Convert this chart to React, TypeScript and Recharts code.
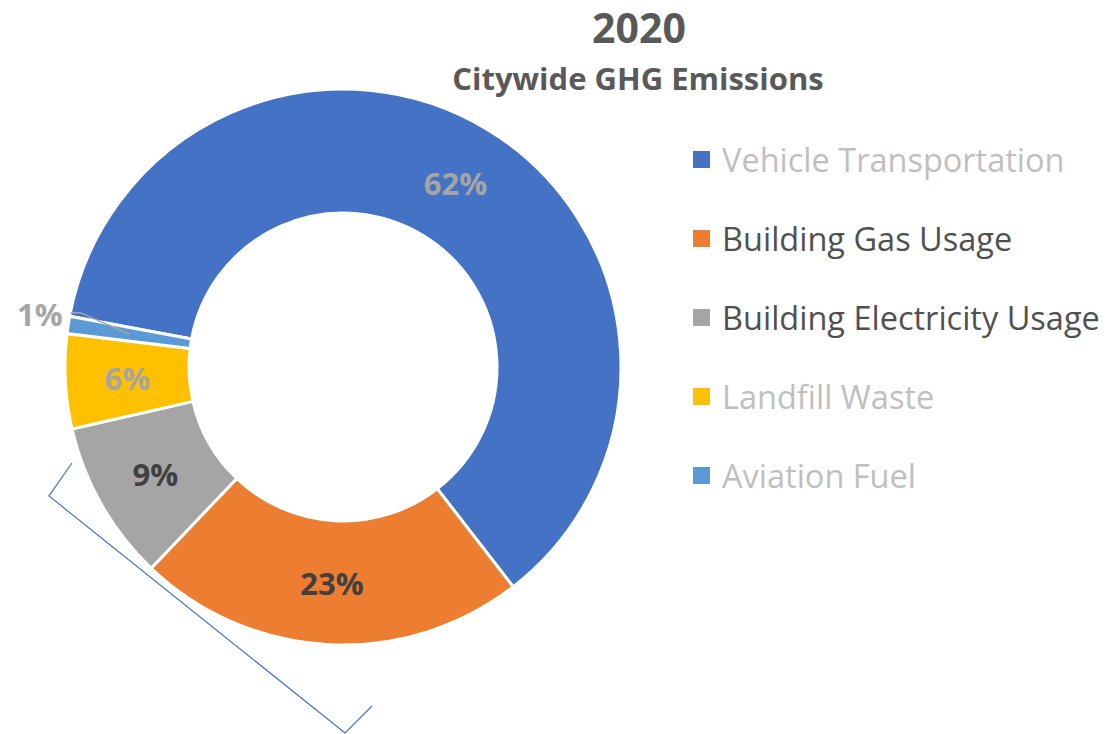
import React from 'react';
import { PieChart, Pie, Cell, Legend, Customized } from 'recharts';

const categories = [
  'Vehicle Transportation',
  'Building Gas Usage',
  'Building Electricity Usage',
  'Landfill Waste',
  'Aviation Fuel',
];
const shares = [61.6, 22.6, 9.3, 5.5, 1.0];
const percentLabels = ['62%', '23%', '9%', '6%', '1%'];
const sliceColors = ['#4472C4', '#ED7D31', '#A5A5A5', '#FFC000', '#5B9BD5'];
const labelColors = ['#A5A5A5', '#404040', '#404040', '#A5A5A5', '#A5A5A5'];
const legendTextColors = ['#BFBFBF', '#505050', '#505050', '#BFBFBF', '#BFBFBF'];
const titleText = '2020';
const subtitleText = 'Citywide GHG Emissions';

const data = categories.map((name, i) => ({ name, value: shares[i] }));

const FONT = '"Open Sans", sans-serif';
const RAD = Math.PI / 180;
const polar = (cx: number, cy: number, r: number, a: number) => [
  cx + r * Math.cos(a * RAD),
  cy - r * Math.sin(a * RAD),
];

const renderLabel = (props: any) => {
  const { cx, cy, midAngle, innerRadius, outerRadius, index } = props;
  const midR = (innerRadius + outerRadius) / 2;
  if (index === 4) {
    const [sx, sy] = polar(cx, cy, midR, midAngle);
    const [ex, ey] = polar(cx, cy, outerRadius - 10, midAngle - 3);
    const tx = ex - 10;
    return (
      <g key={`lbl-${index}`}>
        <polyline
          points={`${sx},${sy} ${ex},${ey} ${tx},${ey}`}
          fill="none"
          stroke="#A5A5A5"
          strokeWidth={1.5}
        />
        <text
          x={tx - 8}
          y={ey + 1}
          textAnchor="end"
          dominantBaseline="central"
          fill={labelColors[index]}
          fontFamily={FONT}
          fontWeight={700}
          fontSize={31}
        >
          {percentLabels[index]}
        </text>
      </g>
    );
  }
  const [x, y] = polar(cx, cy, midR, midAngle);
  return (
    <text
      key={`lbl-${index}`}
      x={x}
      y={y}
      textAnchor="middle"
      dominantBaseline="central"
      fill={labelColors[index]}
      fontFamily={FONT}
      fontWeight={700}
      fontSize={31}
    >
      {percentLabels[index]}
    </text>
  );
};

const renderLegend = () => (
  <div style={{ fontFamily: FONT }}>
    {categories.map((c, i) => (
      <div
        key={c}
        style={{ display: 'flex', alignItems: 'center', height: 79 }}
      >
        <div
          style={{
            width: 17,
            height: 17,
            background: sliceColors[i],
            marginRight: 12,
            flex: 'none',
          }}
        />
        <span
          style={{
            fontSize: 32.5,
            color: legendTextColors[i],
            whiteSpace: 'nowrap',
          }}
        >
          {c}
        </span>
      </div>
    ))}
  </div>
);

const Decorations = () => (
  <g>
    <text
      x={639}
      y={27}
      textAnchor="middle"
      dominantBaseline="central"
      fill="#595959"
      fontFamily={FONT}
      fontWeight={700}
      fontSize={41}
    >
      {titleText}
    </text>
    <text
      x={638}
      y={78}
      textAnchor="middle"
      dominantBaseline="central"
      fill="#595959"
      fontFamily={FONT}
      fontWeight={700}
      fontSize={31}
    >
      {subtitleText}
    </text>
    <polyline
      points="72,463 49,496 345,733 372,706"
      fill="none"
      stroke="#4472C4"
      strokeWidth={1.2}
    />
  </g>
);

export default function App() {
  return (
    <div style={{ position: 'absolute', left: 0, top: 0, background: '#fff' }}>
      <PieChart
        width={1114}
        height={734}
        margin={{ top: 0, right: 0, bottom: 0, left: 0 }}
      >
        <Pie
          data={data}
          dataKey="value"
          nameKey="name"
          cx={343}
          cy={367}
          innerRadius={154}
          outerRadius={278}
          startAngle={169.5}
          endAngle={169.5 - 360}
          stroke="#FFFFFF"
          strokeWidth={3}
          label={renderLabel}
          labelLine={false}
          isAnimationActive={false}
        >
          {data.map((d, i) => (
            <Cell key={d.name} fill={sliceColors[i]} />
          ))}
        </Pie>
        <Legend
          content={renderLegend}
          layout="vertical"
          wrapperStyle={{ position: 'absolute', left: 693, top: 120, width: 421 }}
        />
        <Customized component={Decorations} />
      </PieChart>
    </div>
  );
}
